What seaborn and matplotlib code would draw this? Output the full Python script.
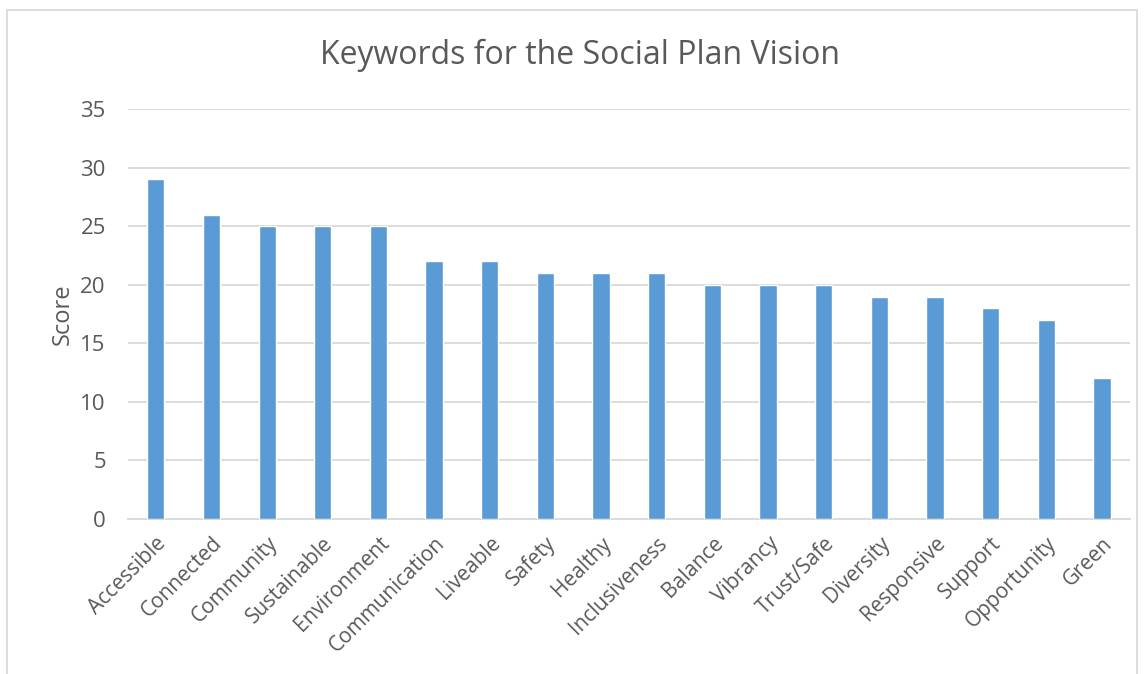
import matplotlib
matplotlib.use('Agg')
import matplotlib.pyplot as plt
import seaborn as sns
import pandas as pd
from matplotlib.patches import Rectangle

keywords = ['Accessible', 'Connected', 'Community', 'Sustainable', 'Environment',
            'Communication', 'Liveable', 'Safety', 'Healthy', 'Inclusiveness',
            'Balance', 'Vibrancy', 'Trust/Safe', 'Diversity', 'Responsive',
            'Support', 'Opportunity', 'Green']
scores = [29, 26, 25, 25, 25, 22, 22, 21, 21, 21, 20, 20, 20, 19, 19, 18, 17, 12]
yticks = [0, 5, 10, 15, 20, 25, 30, 35]

data = pd.DataFrame({'Keyword': keywords, 'Score': scores})

sns.set_style('white')
plt.rcParams['font.family'] = ['Open Sans', 'DejaVu Sans']
text_color = '#595959'

fig = plt.figure(figsize=(11.47, 6.74), dpi=100)
ax = fig.add_axes([0.1116, 0.23, 0.8734, 0.608])

sns.barplot(data=data, x='Keyword', y='Score', color='#5B9BD5', width=0.31,
            saturation=1, ax=ax, zorder=3)

ax.set_ylim(0, 35)
ax.set_yticks(yticks)
ax.set_xlim(-0.5, len(keywords) - 0.5)
ax.yaxis.grid(True, color='#D9D9D9', linewidth=1.3, zorder=0)
ax.set_axisbelow(True)
for side in ['top', 'right', 'left']:
    ax.spines[side].set_visible(False)
ax.spines['bottom'].set_color('#D9D9D9')
ax.spines['bottom'].set_linewidth(1.3)
ax.tick_params(axis='both', length=0, colors=text_color)
ax.tick_params(axis='y', labelsize=16, pad=16)
ax.tick_params(axis='x', labelsize=15, pad=10)
for lbl in ax.get_xticklabels():
    lbl.set_rotation(45)
    lbl.set_ha('right')
    lbl.set_rotation_mode('anchor')
ax.set_xlabel('')
ax.set_ylabel('Score', fontsize=17, color=text_color, labelpad=4)

fig.text(0.506, 0.918, 'Keywords for the Social Plan Vision', ha='center', va='center',
         fontsize=23, color=text_color)

fig.patches.append(Rectangle((7 / 1147, -0.1), 1130 / 1147, 1.1 - 10 / 674,
                             transform=fig.transFigure, fill=False,
                             edgecolor='#D9D9D9', linewidth=1.3))

fig.savefig('out.png', dpi=100)
